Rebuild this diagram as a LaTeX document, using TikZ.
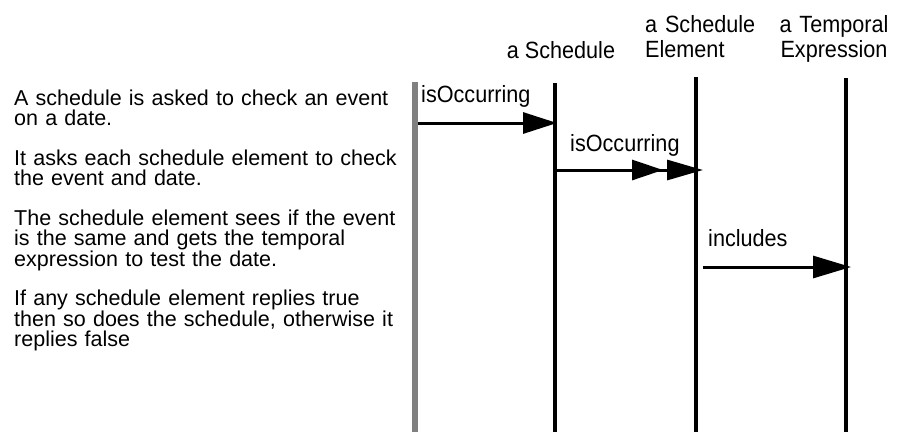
\documentclass[tikz,border=0pt]{standalone}
\usepackage{fontspec}
\setmainfont{Liberation Sans}[FakeStretch=0.92]
\newfontfamily\notefont{Liberation Sans}
\usetikzlibrary{arrows.meta}

\begin{document}
\begin{tikzpicture}[x=1pt,y=-1pt,
  every node/.style={inner sep=0pt,font=\fontsize{23.5}{25}\selectfont},
  note/.style={anchor=base west,text width=400pt,align=left,font=\notefont\fontsize{21.5}{20}\selectfont},
  life/.style={line width=3.2pt},
  msg/.style={line width=3pt,-{Triangle[length=34pt,width=21pt]}}]
  \useasboundingbox (0,0) rectangle (901,432);

  % the notes on the left
  \node[note] (n1) at (14,105) {A schedule is asked to check an event\\on a date.};
  \node[note] (n2) at (14,165) {It asks each schedule element to check\\the event and date.};
  \node[note] (n3) at (14,225) {The schedule element sees if the event\\is the same and gets the temporal\\expression to test the date.};
  \node[note] (n4) at (14,305) {If any schedule element replies true\\then so does the schedule, otherwise it\\replies false};

  % objects
  \node[anchor=base] (sched) at (561,58) {a Schedule};
  \node[anchor=base west,text width=120pt,align=left] (elem) at (645,32) {a Schedule\\Element};
  \node[anchor=base,text width=120pt,align=center] (expr) at (834,32) {a Temporal\\Expression};

  % caller bar and lifelines
  \fill[gray] (412,82) rectangle (418,432);
  \coordinate (sched top) at (555,83);
  \coordinate (sched bot) at (555,432);
  \coordinate (elem top) at (696,77);
  \coordinate (elem bot) at (696,432);
  \coordinate (expr top) at (846,78);
  \coordinate (expr bot) at (846,432);
  \draw[life] (sched top) -- (sched bot);
  \draw[life] (elem top) -- (elem bot);
  \draw[life] (expr top) -- (expr bot);

  % messages
  \coordinate (m1 from) at (418,123);
  \coordinate (m1 to) at (557,123);
  \node[anchor=base west] (m1 label) at (421,102) {isOccurring};
  \draw[msg] (m1 from) -- (m1 to);

  \coordinate (m2 from) at (557,170);
  \coordinate (m2 to) at (703,170);
  \node[anchor=base west] (m2 label) at (570,151) {isOccurring};
  \draw[line width=3pt,-{Triangle[length=31pt,width=20pt,sep=4pt]Triangle[length=36pt,width=20pt]}] (m2 from) -- (m2 to);

  \coordinate (m3 from) at (703,267);
  \coordinate (m3 to) at (851,267);
  \node[anchor=base west] (m3 label) at (708,246) {includes};
  \draw[msg,-{Triangle[length=38pt,width=22pt]}] (m3 from) -- (m3 to);
\end{tikzpicture}
\end{document}
